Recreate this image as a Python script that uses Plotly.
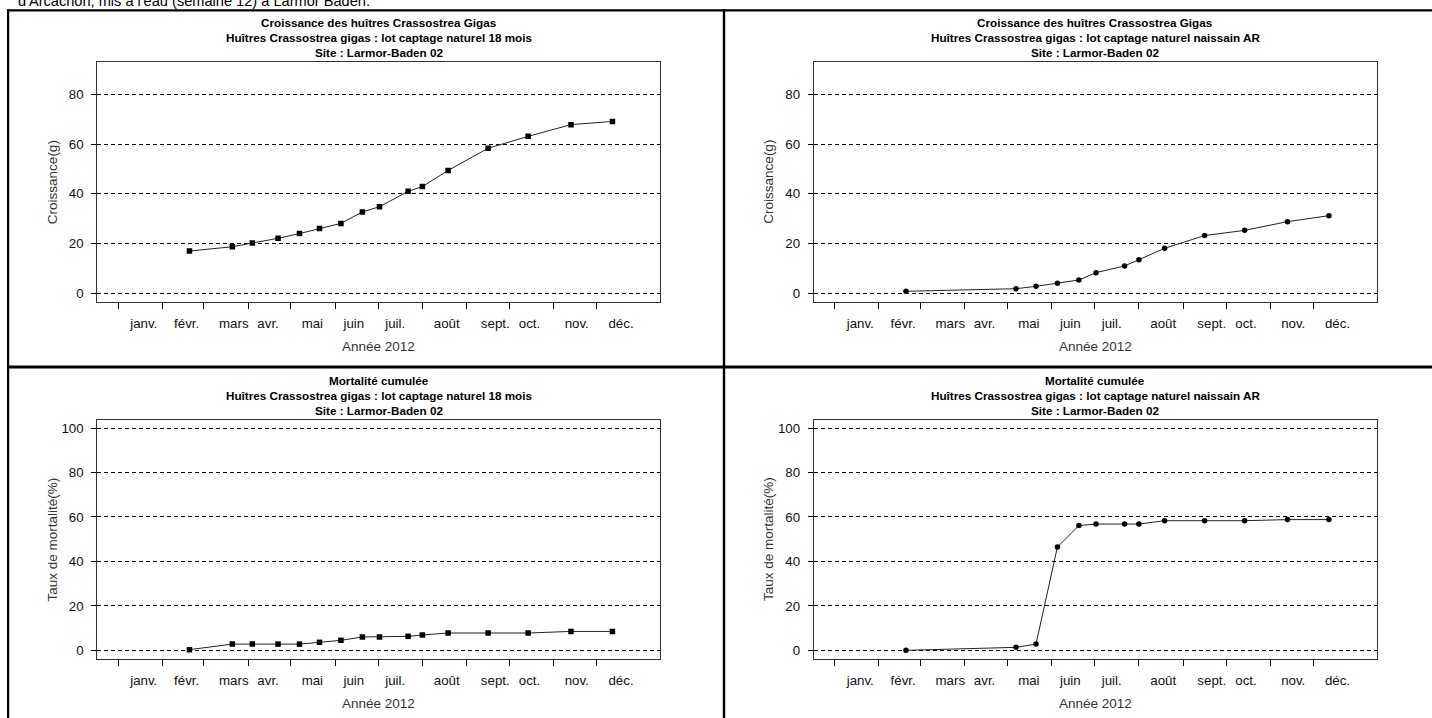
import plotly.graph_objects as go

W, H = 1432, 718

# ---------------- data ----------------
month_starts = ["2012-01-01", "2012-02-01", "2012-03-01", "2012-04-01", "2012-05-01", "2012-06-01",
                "2012-07-01", "2012-08-01", "2012-09-01", "2012-10-01", "2012-11-01", "2012-12-01"]
month_labels = ["janv.", "févr.", "mars", "avr.", "mai", "juin",
                "juil.", "août", "sept.", "oct.", "nov.", "déc."]
label_dates = ["2012-01-19", "2012-02-18", "2012-03-22", "2012-04-15", "2012-05-16", "2012-06-14",
               "2012-07-13", "2012-08-18", "2012-09-21", "2012-10-15", "2012-11-17", "2012-12-18"]

dates_18 = ["2012-02-20", "2012-03-21", "2012-04-04", "2012-04-22", "2012-05-07", "2012-05-21",
            "2012-06-05", "2012-06-20", "2012-07-02", "2012-07-22", "2012-08-01", "2012-08-19",
            "2012-09-16", "2012-10-14", "2012-11-13", "2012-12-12"]
croissance_18 = [17.0, 18.7, 20.2, 22.1, 24.0, 26.0, 28.1, 32.7, 34.8, 41.0, 42.9, 49.4,
                 58.3, 63.1, 67.8, 69.1]
mortalite_18 = [0.3, 2.8, 2.8, 2.8, 2.8, 3.6, 4.5, 6.0, 6.0, 6.3, 6.9, 7.8,
                7.8, 7.8, 8.5, 8.5]

dates_ar = ["2012-02-20", "2012-05-07", "2012-05-21", "2012-06-05", "2012-06-20", "2012-07-02",
            "2012-07-22", "2012-08-01", "2012-08-19", "2012-09-16", "2012-10-14", "2012-11-13",
            "2012-12-12"]
croissance_ar = [0.8, 1.85, 2.8, 4.0, 5.35, 8.3, 11.0, 13.5, 18.1, 23.2, 25.3, 28.8, 31.2]
mortalite_ar = [0.0, 1.35, 2.8, 46.5, 56.1, 56.8, 56.8, 56.8, 58.3, 58.3, 58.3, 58.8, 58.8]

top_note = "d'Arcachon, mis à l'eau (semaine 12) à Larmor Baden."
titles = [
    ["Croissance des huîtres Crassostrea Gigas",
     "Huîtres Crassostrea gigas : lot captage naturel 18 mois", "Site : Larmor-Baden 02"],
    ["Croissance des huîtres Crassostrea Gigas",
     "Huîtres Crassostrea gigas : lot captage naturel naissain AR", "Site : Larmor-Baden 02"],
    ["Mortalité cumulée",
     "Huîtres Crassostrea gigas : lot captage naturel 18 mois", "Site : Larmor-Baden 02"],
    ["Mortalité cumulée",
     "Huîtres Crassostrea gigas : lot captage naturel naissain AR", "Site : Larmor-Baden 02"],
]
ytitles = ["Croissance(g)", "Croissance(g)", "Taux de mortalité(%)", "Taux de mortalité(%)"]
xtitle = "Année 2012"
yticks_c = [0, 20, 40, 60, 80]
yticks_m = [0, 20, 40, 60, 80, 100]

# ---------------- layout geometry (pixels) ----------------
FONT = "Liberation Sans, Arial, sans-serif"
def fx(x): return x / W
def fy(y): return 1 - y / H

boxes = [  # (left, right, top, bottom)
    (97.3, 660.3, 62.3, 302.0),
    (813.8, 1376.8, 62.3, 302.0),
    (97.3, 660.3, 420.0, 659.0),
    (813.8, 1376.8, 420.0, 659.0),
]
yranges = [[-3.5, 92.86], [-3.5, 92.86], [-3.9, 103.6], [-3.9, 103.6]]
ytickv = [yticks_c, yticks_c, yticks_m, yticks_m]
series = [
    (dates_18, croissance_18, "square"),
    (dates_ar, croissance_ar, "circle"),
    (dates_18, mortalite_18, "square"),
    (dates_ar, mortalite_ar, "circle"),
]

fig = go.Figure()
annotations = []
layout = {}
for i, (box, (xs, ys, sym)) in enumerate(zip(boxes, series)):
    n = "" if i == 0 else str(i + 1)
    l, r, t, b = box
    fig.add_trace(go.Scatter(
        x=xs, y=ys, mode="lines+markers",
        line=dict(color="#222222", width=1),
        marker=dict(symbol=sym, size=5.5, color="black"),
        xaxis="x" + n, yaxis="y" + n, showlegend=False, hoverinfo="x+y"))
    layout["xaxis" + n] = dict(
        type="date", domain=[fx(l), fx(r)], anchor="y" + n,
        range=["2011-12-17 12:00", "2013-01-14 12:00"],
        tickmode="array", tickvals=label_dates, ticktext=month_labels,
        ticks="outside", ticklen=6, tickcolor="rgba(0,0,0,0)", ticklabelstandoff=3,
        tickfont=dict(family=FONT, size=13.3, color="#111"),
        minor=dict(tickmode="array", tickvals=month_starts, ticks="outside",
                   ticklen=6, tickwidth=1, tickcolor="black", showgrid=False),
        showgrid=False, zeroline=False,
        showline=True, mirror=True, linecolor="#333", linewidth=1,
        fixedrange=True)
    layout["yaxis" + n] = dict(
        domain=[fy(b), fy(t)], anchor="x" + n, range=yranges[i],
        tickmode="array", tickvals=ytickv[i],
        ticks="outside", ticklen=5, tickwidth=1, tickcolor="black", ticklabelstandoff=5,
        tickfont=dict(family=FONT, size=13.3, color="#111"),
        showgrid=True, gridcolor="black", gridwidth=1, griddash="4px,3px",
        zeroline=False, showline=True, mirror=True, linecolor="#333", linewidth=1,
        fixedrange=True)
    cx = (l + r) / 2
    for k, line in enumerate(titles[i]):
        annotations.append(dict(
            text="<b>%s</b>" % line, x=fx(cx), y=fy(t - 39.6 + 15 * k),
            xref="paper", yref="paper", xanchor="center", yanchor="middle",
            showarrow=False, font=dict(family=FONT, size=11.7, color="black")))
    annotations.append(dict(
        text=xtitle, x=fx(cx), y=fy(b + 44.7), xref="paper", yref="paper",
        xanchor="center", yanchor="middle", showarrow=False,
        font=dict(family=FONT, size=13.5, color="#333")))
    annotations.append(dict(
        text=ytitles[i], x=fx(l - 45.3), y=fy((t + b) / 2), xref="paper", yref="paper",
        xanchor="center", yanchor="middle", textangle=-90, showarrow=False,
        font=dict(family=FONT, size=13.5, color="#333")))

# partly clipped line of text above the table (as in the reference)
annotations.append(dict(
    text=top_note, x=fx(16), y=fy(11.5), xref="paper", yref="paper",
    xanchor="left", yanchor="bottom", showarrow=False,
    font=dict(family=FONT, size=14.6, color="black")))

# table borders
shapes = [
    dict(type="rect", x0=fx(7), x1=fx(9.2), y0=fy(9.2), y1=fy(720)),
    dict(type="rect", x0=fx(7), x1=fx(1440), y0=fy(9.2), y1=fy(11.5)),
    dict(type="rect", x0=fx(722.8), x1=fx(725.2), y0=fy(9.2), y1=fy(720)),
    dict(type="rect", x0=fx(7), x1=fx(1440), y0=fy(365.5), y1=fy(368.5)),
]
for s in shapes:
    s.update(xref="paper", yref="paper", fillcolor="black", line=dict(width=0), layer="above")

fig.update_layout(
    width=W, height=H, margin=dict(l=0, r=0, t=0, b=0),
    paper_bgcolor="white", plot_bgcolor="white",
    annotations=annotations, shapes=shapes, **layout)

fig.write_html("out.html", config={"displayModeBar": False},
               post_script="document.body.style.margin='0';document.body.style.overflow='hidden';")
